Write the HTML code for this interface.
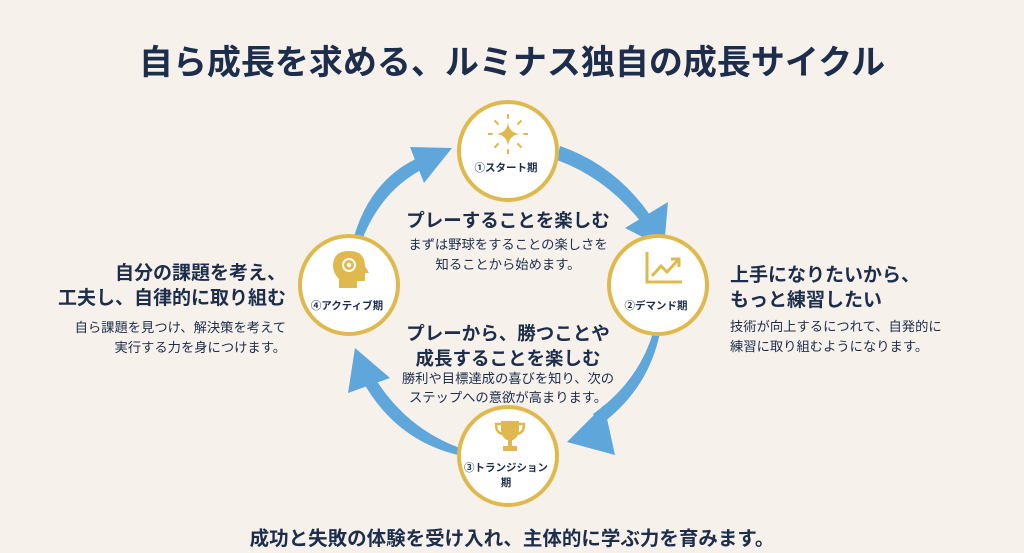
<!DOCTYPE html>
<html><head><meta charset="utf-8"><style>
*{margin:0;padding:0;box-sizing:border-box}
body{width:1024px;height:553px;background:#f6f2eb;position:relative;overflow:hidden;font-family:"Liberation Sans","Noto Sans CJK JP",sans-serif;color:#1d2d4c}
.a{position:absolute;white-space:nowrap}
.b{font-weight:bold}
.c{position:absolute;width:102px;height:102px;border-radius:50%;background:#fff;border:4px solid #e0b94e}
.lab{position:absolute;width:100%;text-align:center;font-size:10.5px;font-weight:bold;color:#1d2d4c;left:-2px}
</style></head><body>
<div class="a b" style="left:0;width:1024px;text-align:center;top:35px;font-size:34px;letter-spacing:0px">自ら成長を求める、ルミナス独自の成長サイクル</div>

<svg width="1024" height="553" style="position:absolute;left:0;top:0">
<g fill="#5fa6db" stroke="none">
<path d="M560 146 Q615 165 650 215 L641 222 Q606 178 557 160 Z"/>
<polygon points="625,228 668,202 664,248"/>
<path d="M660 333 Q648 390 600 425 L593 414 Q638 382 653 333 Z"/>
<polygon points="604,405 615,455 567,442"/>
<path d="M458 455 Q395 440 362 380 L373 375 Q405 428 460 448 Z"/>
<polygon points="348,393 355,348 390,378"/>
<path d="M352 244 Q368 180 420 157 L425 168 Q380 190 360 245 Z"/>
<polygon points="410,147 452,148 424,183"/>
</g>
</svg>

<div class="c" style="left:457px;top:100px">
<svg width="40" height="40" style="position:absolute;left:27px;top:10px" viewBox="0 0 40 40">
<path d="M20 8 Q21 19 32 20 Q21 21 20 32 Q19 21 8 20 Q19 19 20 8Z" fill="#e0b94e"/>
<g stroke="#e0b94e" stroke-width="2" stroke-linecap="round"><line x1="20" y1="0" x2="20" y2="4"/><line x1="20" y1="36" x2="20" y2="40"/><line x1="0" y1="20" x2="4" y2="20"/><line x1="36" y1="20" x2="40" y2="20"/><line x1="7" y1="7" x2="10" y2="10"/><line x1="33" y1="7" x2="30" y2="10"/><line x1="7" y1="33" x2="10" y2="30"/><line x1="33" y1="33" x2="30" y2="30"/></g>
</svg>
<div class="lab" style="top:56px">①スタート期</div></div>

<div class="c" style="left:607px;top:234px">
<svg width="40" height="40" style="position:absolute;left:33px;top:12px" viewBox="0 0 40 40" fill="none" stroke="#e0b94e" stroke-width="3">
<path d="M3 2 V32 H38"/><path d="M8 26 L17 16 L23 22 L34 10"/><path d="M27 9 H35 V17" />
</svg>
<div class="lab" style="top:60px">②デマンド期</div></div>

<div class="c" style="left:457px;top:405px">
<svg width="34" height="34" style="position:absolute;left:32px;top:10px" viewBox="0 0 34 34" fill="#e0b94e">
<path d="M8 2 H26 V10 Q26 20 17 22 Q8 20 8 10Z"/><path d="M8 5 H3 Q3 14 10 15" fill="none" stroke="#e0b94e" stroke-width="2.5"/><path d="M26 5 H31 Q31 14 24 15" fill="none" stroke="#e0b94e" stroke-width="2.5"/>
<rect x="15" y="21" width="4" height="6"/><rect x="10" y="27" width="14" height="5"/>
</svg>
<div class="lab" style="top:52px;line-height:15px">③トランジション<br>期</div></div>

<div class="c" style="left:298px;top:234px">
<svg width="40" height="40" style="position:absolute;left:29px;top:11px" viewBox="0 0 40 40" fill="#e0b94e">
<path d="M18 2 Q34 2 34 17 L38 24 H34 V32 H26 V39 H8 V30 Q2 24 2 17 Q2 2 18 2Z"/>
<circle cx="18" cy="16" r="7" fill="#fff"/><circle cx="18" cy="16" r="5" fill="#e0b94e"/><circle cx="18" cy="16" r="2.2" fill="#fff"/>
</svg>
<div class="lab" style="top:60px">④アクティブ期</div></div>

<div class="a b" style="left:0;width:1016px;text-align:center;top:207px;font-size:18.5px">プレーすることを楽しむ</div>
<div class="a" style="left:0;width:1016px;text-align:center;top:235px;font-size:13.3px;line-height:20px">まずは野球をすることの楽しさを<br>知ることから始めます。</div>

<div class="a b" style="left:0;width:1016px;text-align:center;top:321px;font-size:18.5px;line-height:25px">プレーから、勝つことや<br>成長することを楽しむ</div>
<div class="a" style="left:0;width:1016px;text-align:center;top:369px;font-size:13.3px;line-height:19px">勝利や目標達成の喜びを知り、次の<br>ステップへの意欲が高まります。</div>

<div class="a b" style="right:738px;top:261px;font-size:19px;line-height:25px;text-align:right">自分の課題を考え、<br>工夫し、自律的に取り組む</div>
<div class="a" style="right:738px;top:318px;font-size:13.3px;line-height:20px;text-align:right">自ら課題を見つけ、解決策を考えて<br>実行する力を身につけます。</div>

<div class="a b" style="left:730px;top:263px;font-size:19px;line-height:25px">上手になりたいから、<br>もっと練習したい</div>
<div class="a" style="left:730px;top:317px;font-size:13.3px;line-height:20px">技術が向上するにつれて、自発的に<br>練習に取り組むようになります。</div>

<div class="a b" style="left:0;width:1024px;text-align:center;top:522px;font-size:19.5px">成功と失敗の体験を受け入れ、主体的に学ぶ力を育みます。</div>
</body></html>
